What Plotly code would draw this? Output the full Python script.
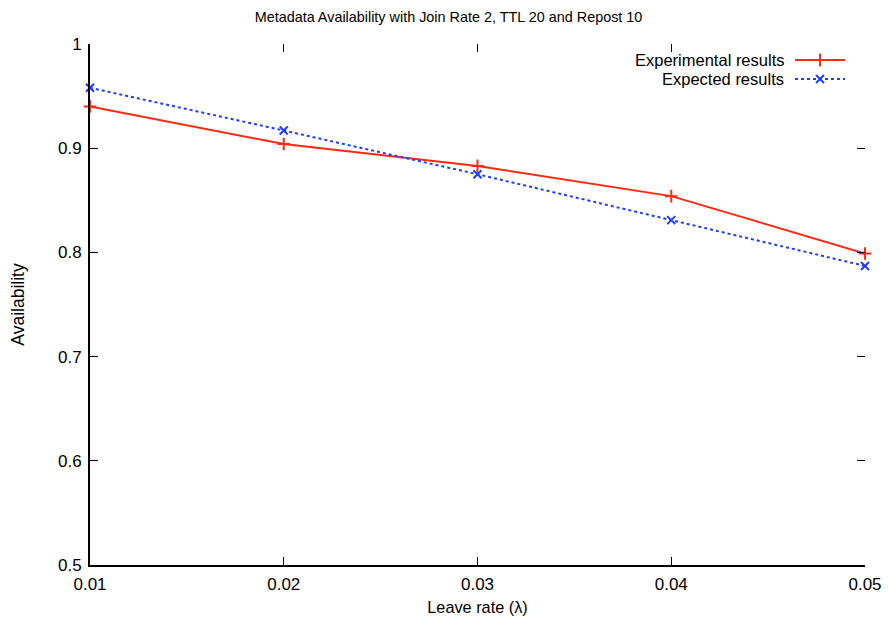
import plotly.graph_objects as go

leave_rate = [0.01, 0.02, 0.03, 0.04, 0.05]
experimental = [0.940, 0.904, 0.883, 0.854, 0.799]
expected = [0.958, 0.917, 0.875, 0.831, 0.787]
x_ticks = [0.01, 0.02, 0.03, 0.04, 0.05]
x_tick_labels = ["0.01", "0.02", "0.03", "0.04", "0.05"]
y_ticks = [0.5, 0.6, 0.7, 0.8, 0.9, 1.0]
y_tick_labels = ["0.5", "0.6", "0.7", "0.8", "0.9", "1"]

RED = "#ff2a10"
BLUE = "#1f3dff"
FONT = "Liberation Sans, Arial, sans-serif"

# page has an 8px body margin; figure sized to fill the rest of the 889x622 window
W, H = 881, 614
ML, MR, MT, MB = 82, 24, 36, 57
OFF = 8  # page offset, used to express legend layout in window pixels

fig = go.Figure()
fig.add_trace(go.Scatter(
    x=leave_rate, y=experimental, mode="lines+markers", name="Experimental results",
    line=dict(color=RED, width=2),
    marker=dict(symbol="cross-thin", size=9, line=dict(color=RED, width=2)),
    showlegend=False, cliponaxis=False))
fig.add_trace(go.Scatter(
    x=leave_rate, y=expected, mode="lines+markers", name="Expected results",
    line=dict(color=BLUE, width=2, dash="dot"),
    marker=dict(symbol="x-thin", size=8, line=dict(color=BLUE, width=2)),
    showlegend=False, cliponaxis=False))

# gnuplot-style legend (text, then sample) in a pixel-like overlay axis
legend_items = [
    ("Experimental results", RED, "solid", "cross-thin", 9, 60),
    ("Expected results", BLUE, "dot", "x-thin", 8, 79),
]
for label, color, dash, sym, size, py in legend_items:
    fig.add_trace(go.Scatter(
        x=[795, 845], y=[py, py], mode="lines", xaxis="x3", yaxis="y3",
        line=dict(color=color, width=2, dash=dash), showlegend=False, hoverinfo="skip"))
    fig.add_trace(go.Scatter(
        x=[820], y=[py], mode="markers", xaxis="x3", yaxis="y3",
        marker=dict(symbol=sym, size=size, line=dict(color=color, width=2)),
        showlegend=False, hoverinfo="skip"))
    fig.add_annotation(x=785, y=py, xref="x3", yref="y3", text=label, showarrow=False,
                       xanchor="right", yanchor="middle", borderpad=0,
                       font=dict(family=FONT, size=16.5, color="black"))

axis_common = dict(ticks="inside", ticklen=8, tickwidth=1, tickcolor="black",
                   showgrid=False, zeroline=False, automargin=False)

fig.update_layout(
    width=W, height=H,
    margin=dict(l=ML, r=MR, t=MT, b=MB, autoexpand=False),
    paper_bgcolor="white", plot_bgcolor="white",
    font=dict(family=FONT, size=17, color="black"),
    title=dict(text="Metadata Availability with Join Rate 2, TTL 20 and Repost 10",
               x=0.5, xanchor="center", y=1 - 9 / H, yanchor="middle",
               font=dict(size=14.4)),
    xaxis=dict(range=[0.01, 0.05], tickvals=x_ticks, ticktext=x_tick_labels,
               showline=True, linecolor="black", linewidth=2, ticklabelstandoff=3,
               title=dict(text="Leave rate (λ)", font=dict(size=16.3), standoff=8),
               **axis_common),
    yaxis=dict(range=[0.5, 1.0], tickvals=y_ticks, ticktext=y_tick_labels,
               showline=True, linecolor="black", linewidth=2, ticklabelstandoff=3,
               title=dict(text="Availability", font=dict(size=17.5), standoff=33),
               **axis_common),
    xaxis2=dict(range=[0.01, 0.05], tickvals=x_ticks, overlaying="x", side="top",
                showticklabels=False, showline=False, anchor="y", **axis_common),
    yaxis2=dict(range=[0.5, 1.0], tickvals=y_ticks, overlaying="y", side="right",
                showticklabels=False, showline=False, anchor="x", **axis_common),
    xaxis3=dict(range=[ML + OFF, W - MR + OFF], overlaying="x", visible=False, anchor="y3"),
    yaxis3=dict(range=[H - MB + OFF, MT + OFF], overlaying="y", visible=False, anchor="x3"),
)
# dummy trace so mirrored tick axes render
fig.add_trace(go.Scatter(x=[0.03], y=[0.75], xaxis="x2", yaxis="y2", mode="markers",
                         marker=dict(opacity=0), showlegend=False, hoverinfo="skip"))

fig.write_html("out.html")
